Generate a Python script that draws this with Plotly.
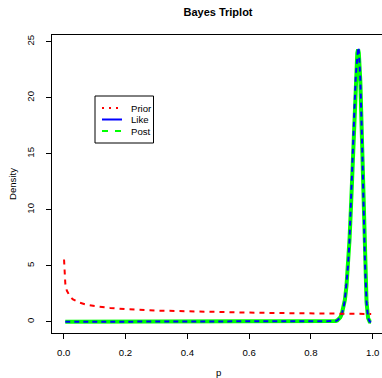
import plotly.graph_objects as go

# ---- data ----
prior_p = [0.001, 0.005, 0.01, 0.02, 0.03, 0.05, 0.075, 0.1, 0.15, 0.2, 0.3,
           0.4, 0.5, 0.6, 0.7, 0.8, 0.9, 0.995]
prior_d = [5.56, 3.43, 2.79, 2.26, 2.00, 1.72, 1.52, 1.40, 1.24, 1.13, 1.00,
           0.92, 0.86, 0.82, 0.78, 0.75, 0.72, 0.70]

like_p = [0.005, 0.2, 0.4, 0.6, 0.8, 0.85, 0.87, 0.88, 0.885, 0.89, 0.895,
          0.90, 0.905, 0.91, 0.915, 0.92, 0.925, 0.93, 0.935, 0.94, 0.945, 0.95,
          0.9526, 0.955, 0.96, 0.965, 0.97, 0.975, 0.98, 0.985, 0.99, 0.995]
like_d = [0, 0, 0, 0, 0, 0.0005, 0.016, 0.061, 0.12, 0.22, 0.39,
          0.70, 1.20, 1.99, 3.21, 4.99, 7.45, 10.6, 14.4, 18.4, 21.9, 24.2,
          24.5, 24.2, 21.6, 16.6, 10.6, 5.19, 1.76, 0.33, 0.02, 0.0]
post_d = [0, 0, 0, 0, 0, 0.0005, 0.016, 0.060, 0.12, 0.22, 0.39,
          0.70, 1.19, 1.98, 3.19, 4.96, 7.40, 10.5, 14.3, 18.3, 21.8, 24.0,
          24.3, 24.0, 21.4, 16.5, 10.5, 5.15, 1.75, 0.33, 0.02, 0.0]

legend_labels = ["Prior", "Like", "Post"]
x_ticks = [0.0, 0.2, 0.4, 0.6, 0.8, 1.0]
x_tick_text = ["0.0", "0.2", "0.4", "0.6", "0.8", "1.0"]
y_ticks = [0, 5, 10, 15, 20, 25]

W, H = 382, 378
ML, MR, MT, MB = 52, 0, 35, 45
PW, PH = W - ML - MR, H - MT - MB
FONT = "Liberation Sans, Arial, Helvetica, sans-serif"


def px_x(px):
    return (px - ML) / PW


def px_y(py):
    return (H - MB - py) / PH


fig = go.Figure()
fig.add_trace(go.Scatter(x=like_p, y=post_d, mode="lines",
                         line=dict(color="#00ff00", width=4),
                         showlegend=False, hoverinfo="skip"))
fig.add_trace(go.Scatter(x=like_p, y=like_d, mode="lines",
                         line=dict(color="#0000ff", width=2, dash="5px,4px"),
                         showlegend=False, hoverinfo="skip"))
fig.add_trace(go.Scatter(x=prior_p, y=prior_d, mode="lines",
                         line=dict(color="#ff0000", width=2, dash="5px,5px"),
                         showlegend=False, hoverinfo="skip"))

# ---- manual legend (box, samples, labels) ----
shapes = [dict(type="rect", xref="paper", yref="paper",
               x0=px_x(95), x1=px_x(153.5), y0=px_y(143), y1=px_y(96),
               line=dict(color="black", width=1), fillcolor="white", layer="above")]
leg_styles = [("#ff0000", "2px,5px"), ("#0000ff", "solid"), ("#00ff00", "6px,7px")]
leg_rows = [108, 119.5, 131]
annotations = []
for (col, dash), row, lab in zip(leg_styles, leg_rows, legend_labels):
    shapes.append(dict(type="line", xref="paper", yref="paper",
                       x0=px_x(102), x1=px_x(122), y0=px_y(row), y1=px_y(row),
                       line=dict(color=col, width=2, dash=dash), layer="above"))
    annotations.append(dict(text=lab, xref="paper", yref="paper",
                            x=px_x(129), y=px_y(row), xanchor="left", yanchor="middle",
                            showarrow=False, font=dict(size=9.6, color="black", family=FONT)))

annotations.append(dict(text="p", xref="paper", yref="paper", x=px_x(218), y=px_y(372),
                        xanchor="center", yanchor="middle", showarrow=False,
                        font=dict(size=9.6, color="black", family=FONT)))
annotations.append(dict(text="Density", xref="paper", yref="paper", x=px_x(12), y=px_y(184),
                        xanchor="center", yanchor="middle", showarrow=False, textangle=-90,
                        font=dict(size=9.6, color="black", family=FONT)))

fig.update_layout(
    width=W, height=H,
    margin=dict(l=ML, r=MR, t=MT, b=MB, pad=0),
    paper_bgcolor="white", plot_bgcolor="white",
    title=dict(text="<b>Bayes Triplot</b>", x=218 / W, y=1 - 12 / H,
               xanchor="center", yanchor="middle",
               font=dict(size=11, color="black", family=FONT)),
    shapes=shapes, annotations=annotations,
    showlegend=False,
    font=dict(family=FONT, size=9.6, color="black"),
)
fig.update_xaxes(range=[-0.038, 1.03], tickvals=x_ticks, ticktext=x_tick_text,
                 showgrid=False, zeroline=False, showline=True, mirror=True,
                 linecolor="black", linewidth=1, ticks="outside", ticklen=5,
                 tickcolor="black", ticklabelstandoff=5,
                 tickfont=dict(size=9.6, color="black", family=FONT))
fig.update_yaxes(range=[-1.0, 25.6], tickvals=y_ticks,
                 showgrid=False, zeroline=False, showline=True, mirror=False,
                 linecolor="black", linewidth=1, ticks="outside", ticklen=5,
                 tickcolor="black", tickangle=-90, ticklabelstandoff=8,
                 tickfont=dict(size=9.6, color="black", family=FONT))

fig.write_html("out.html",
               config={"displayModeBar": False, "staticPlot": True},
               post_script="document.body.style.margin='0';document.body.style.padding='0';document.body.style.overflow='hidden';")
